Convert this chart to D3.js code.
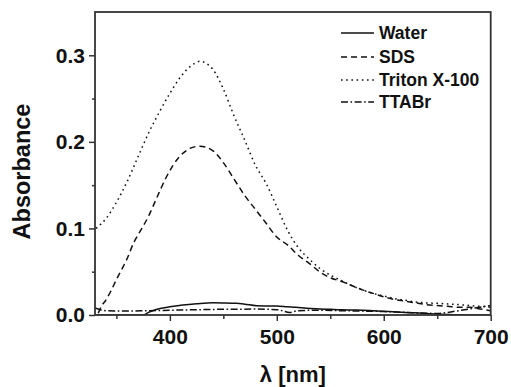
<!DOCTYPE html>
<html>
<head>
<meta charset="utf-8">
<script src="https://cdn.jsdelivr.net/npm/d3@7"></script>
<style>
  html, body { margin: 0; padding: 0; background: #fff; }
  svg { display: block; }
  text { font-family: Arial, "Liberation Sans", Helvetica, sans-serif; font-weight: bold; fill: #111; }
</style>
</head>
<body>
<svg id="chart" width="511" height="387"></svg>
<script>
// ---------------- data ----------------
const seriesNames = ["Water", "SDS", "Triton X-100", "TTABr"];

const tritonWl  = [331, 340, 350, 360, 370, 380, 390, 400, 410, 420, 428, 440, 450, 460, 470, 480, 490, 500, 510, 520, 530, 540, 550, 560, 570, 580, 590, 600, 610, 620, 630, 640, 650, 660, 670, 680, 690, 700];
const tritonAbs = [0.100, 0.111, 0.130, 0.154, 0.182, 0.210, 0.234, 0.256, 0.275, 0.288, 0.293, 0.284, 0.261, 0.230, 0.202, 0.173, 0.152, 0.125, 0.098, 0.078, 0.065, 0.054, 0.046, 0.040, 0.034, 0.029, 0.025, 0.022, 0.019, 0.017, 0.015, 0.014, 0.0135, 0.0128, 0.012, 0.011, 0.010, 0.009];

const sdsWl  = [333, 336, 340, 345, 350, 356, 360, 366, 370, 380, 388, 397, 409, 420, 428, 440, 450, 460, 470, 480, 490, 500, 510, 520, 530, 540, 550, 560, 570, 580, 590, 600, 610, 620, 630, 640, 650, 660, 670, 680, 690, 700];
const sdsAbs = [0.002, 0.010, 0.017, 0.028, 0.041, 0.055, 0.065, 0.083, 0.092, 0.114, 0.136, 0.160, 0.183, 0.193, 0.195, 0.190, 0.176, 0.157, 0.138, 0.122, 0.106, 0.090, 0.081, 0.069, 0.060, 0.050, 0.043, 0.039, 0.034, 0.029, 0.025, 0.021, 0.018, 0.016, 0.014, 0.012, 0.011, 0.010, 0.009, 0.009, 0.007, 0.005];

const waterWl  = [330, 360, 375, 380, 388, 400, 412, 425, 440, 450, 462, 470, 481, 490, 500, 510, 518, 528, 540, 550, 560, 575, 590, 605, 620, 637, 650, 660, 680, 700];
const waterAbs = [0.000, 0.000, 0.000, 0.003, 0.0066, 0.0095, 0.0115, 0.013, 0.0142, 0.014, 0.0135, 0.0125, 0.0107, 0.0105, 0.0104, 0.0095, 0.0089, 0.0077, 0.007, 0.0065, 0.006, 0.0058, 0.005, 0.004, 0.003, 0.002, 0.001, 0.0005, 0.0, 0.0];

const ttabrWl  = [330, 335, 340, 360, 380, 400, 420, 450, 480, 500, 505, 512, 520, 540, 560, 580, 600, 620, 640, 650, 660, 670, 680, 690, 700];
const ttabrAbs = [0.008, 0.006, 0.005, 0.0045, 0.005, 0.0055, 0.006, 0.0066, 0.0068, 0.0062, 0.005, 0.003, 0.005, 0.0055, 0.005, 0.0045, 0.004, 0.003, 0.002, 0.0018, 0.003, 0.005, 0.007, 0.009, 0.011];

const xMajorTicks = [400, 500, 600, 700];
const xMinorTicks = [350, 450, 550, 650];
const yMajorTicks = [0.0, 0.1, 0.2, 0.3];
const yMinorTicks = [0.05, 0.15, 0.25];

// ---------------- layout ----------------
const svg = d3.select("#chart");
const L = 95, R = 490.7, T = 12, B = 315;

const x = d3.scaleLinear().domain([330, 700]).range([L, R]);
const y = d3.scaleLinear().domain([0, 0.35]).range([B, T]);

const styles = {
  "Water":        { dash: null },
  "SDS":          { dash: "6,4" },
  "Triton X-100": { dash: "1.6,3.6" },
  "TTABr":        { dash: "7,2.5,1.6,2.5" }
};

const series = [
  { name: "Water", wl: waterWl, abs: waterAbs },
  { name: "SDS", wl: sdsWl, abs: sdsAbs },
  { name: "Triton X-100", wl: tritonWl, abs: tritonAbs },
  { name: "TTABr", wl: ttabrWl, abs: ttabrAbs }
];

const line = d3.line()
  .x(d => x(d[0]))
  .y(d => y(d[1]))
  .curve(d3.curveMonotoneX);

// clip
svg.append("clipPath").attr("id", "clip")
  .append("rect").attr("x", L).attr("y", T).attr("width", R - L).attr("height", B - T);

const plot = svg.append("g").attr("clip-path", "url(#clip)");
series.forEach(s => {
  const pts = s.wl.map((w, i) => [w, s.abs[i]]);
  plot.append("path")
    .attr("d", line(pts))
    .attr("fill", "none")
    .attr("stroke", "#111")
    .attr("stroke-width", 1.5)
    .attr("stroke-dasharray", styles[s.name].dash)
    .attr("stroke-linecap", "butt");
});

// axes
const axisColor = "#333";
function styleAxis(g) {
  g.select(".domain").remove();
  g.selectAll("line").attr("stroke", axisColor).attr("stroke-width", 1.5);
  g.selectAll("text").attr("font-size", 21).attr("fill", "#111")
    .style("font-family", "Arial, 'Liberation Sans', sans-serif").style("font-weight", "bold");
}

svg.append("g").attr("transform", `translate(0,${B})`)
  .call(d3.axisBottom(x).tickValues(xMajorTicks).tickSize(6).tickPadding(8).tickFormat(d3.format("d")))
  .call(styleAxis);
svg.append("g").attr("transform", `translate(0,${B})`)
  .call(d3.axisBottom(x).tickValues(xMinorTicks).tickSize(4).tickFormat(""))
  .call(styleAxis);
svg.append("g").attr("transform", `translate(${L},0)`)
  .call(d3.axisLeft(y).tickValues(yMajorTicks).tickSize(6).tickPadding(4).tickFormat(d3.format(".1f")))
  .call(styleAxis);
svg.append("g").attr("transform", `translate(${L},0)`)
  .call(d3.axisLeft(y).tickValues(yMinorTicks).tickSize(3).tickFormat(""))
  .call(styleAxis);

// frame
svg.append("rect")
  .attr("x", L).attr("y", T).attr("width", R - L).attr("height", B - T)
  .attr("fill", "none").attr("stroke", axisColor).attr("stroke-width", 1.8);

// axis titles
svg.append("text")
  .attr("transform", `translate(30,${(T + B) / 2 + 8}) rotate(-90)`)
  .attr("text-anchor", "middle")
  .attr("font-size", 23.5)
  .text("Absorbance");

svg.append("text")
  .attr("x", (L + R) / 2).attr("y", 381.5)
  .attr("text-anchor", "middle")
  .attr("font-size", 22)
  .text("λ [nm]");

// legend
const legendRows = [33, 57, 80, 102];
const lg = svg.append("g");
seriesNames.forEach((name, i) => {
  const yy = legendRows[i];
  lg.append("line")
    .attr("x1", 341).attr("x2", 374).attr("y1", yy).attr("y2", yy)
    .attr("stroke", "#111").attr("stroke-width", 1.5)
    .attr("stroke-dasharray", styles[name].dash);
  lg.append("text")
    .attr("x", 379).attr("y", yy).attr("dy", "0.36em")
    .attr("font-size", 17.5)
    .text(name);
});
</script>
</body>
</html>
